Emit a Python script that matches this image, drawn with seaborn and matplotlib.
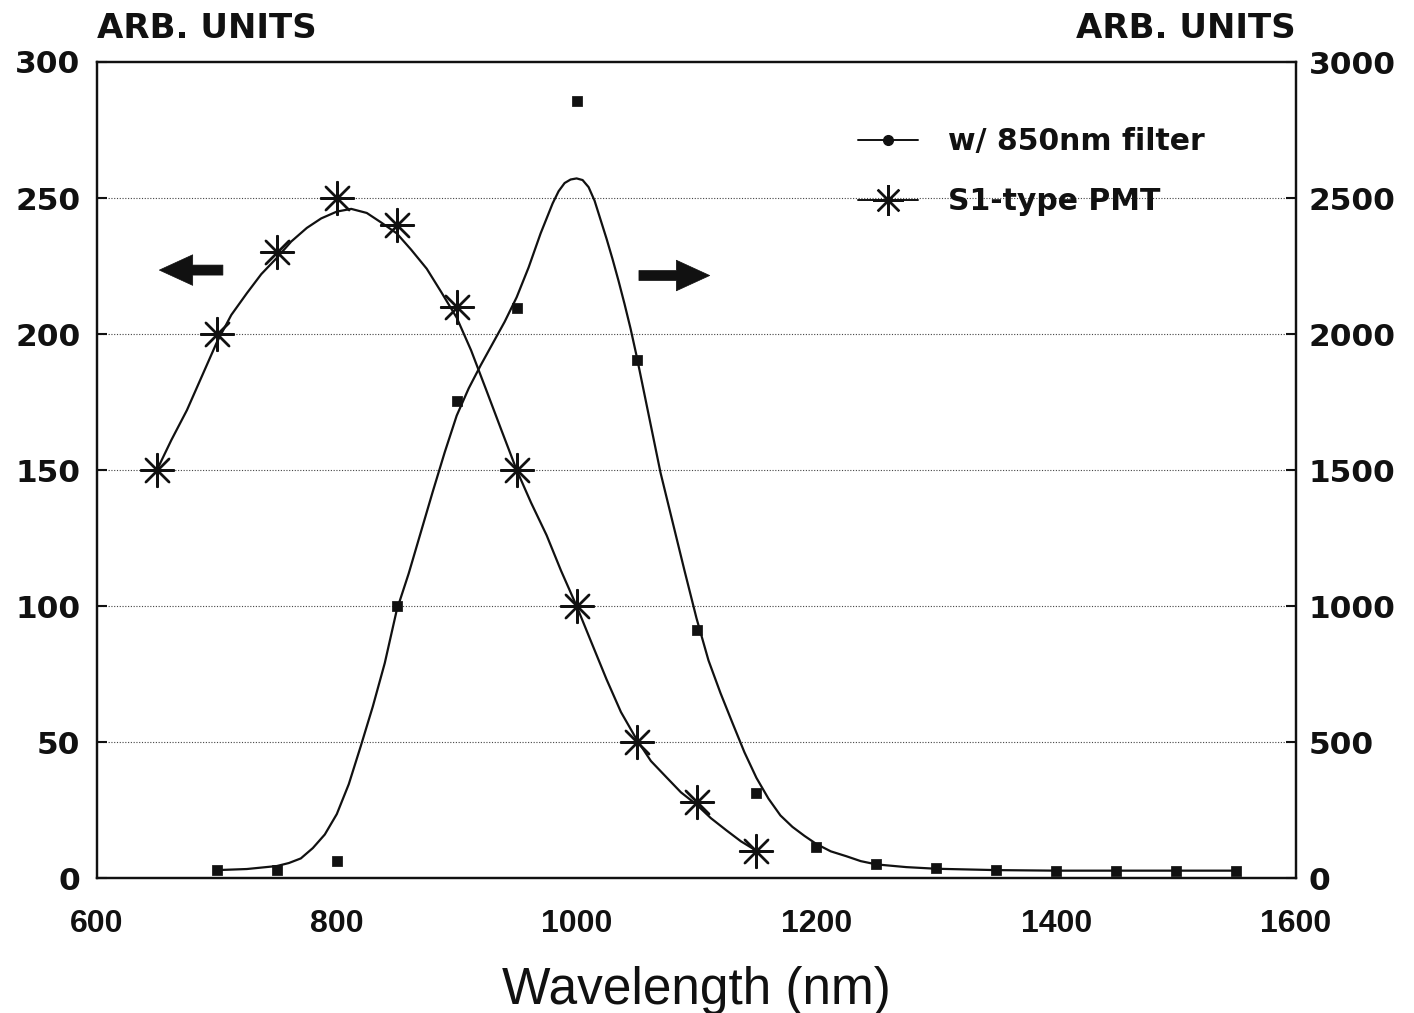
import matplotlib
matplotlib.use("Agg")
import matplotlib.pyplot as plt
from matplotlib.lines import Line2D
import seaborn as sns

# Measured points: S1-type PMT response (left axis)
pmt_wl = [650, 700, 750, 800, 850, 900, 950, 1000, 1050, 1100, 1150]
pmt_val = [150, 200, 230, 250, 240, 210, 150, 100, 50, 28, 10]

# Measured points: response with 850 nm filter (right axis)
filt_wl = [700, 750, 800, 850, 900, 950, 1000, 1050, 1100, 1150,
           1200, 1250, 1300, 1350, 1400, 1450, 1500, 1550]
filt_val = [29, 29, 64, 1000, 1754, 2095, 2857, 1905, 912, 312,
            115, 51, 36, 29, 26, 26, 26, 26]

# Fitted curve through the PMT points (left axis)
pmt_fit_wl = [650, 662, 675, 687, 700, 712, 725, 737, 750, 762, 775, 787, 800,
              812, 825, 837, 850, 862, 875, 887, 900, 912, 925, 937, 950, 962,
              975, 987, 1000, 1012, 1025, 1037, 1050, 1062, 1075, 1087, 1100,
              1112, 1125, 1137, 1150]
pmt_fit_val = [150, 161, 172, 184, 197, 207, 215, 222, 228, 234, 239, 242.5, 245,
               246, 244.5, 241, 237, 231, 224, 215.5, 206, 194, 179, 165, 150, 138,
               126, 113, 100, 87, 73, 61, 51, 43, 37, 31.5, 27,
               22, 17.5, 13.5, 10]

# Fitted curve through the filter points (right axis)
filt_fit_wl = [700, 725, 750, 760, 770, 780, 790, 800, 810, 820, 830, 840, 850,
               860, 870, 880, 890, 900, 910, 920, 930, 940, 950, 960, 970, 980,
               985, 990, 995, 1000, 1005, 1010, 1015, 1020, 1025, 1030, 1035, 1040,
               1045, 1050, 1060, 1070, 1080, 1090, 1100, 1110, 1120, 1130, 1140,
               1150, 1160, 1170, 1180, 1190, 1200, 1212, 1225, 1237, 1250, 1275,
               1300, 1350, 1400, 1450, 1500, 1550]
filt_fit_val = [29, 33, 44, 55, 72, 110, 160, 235, 345, 485, 630, 790, 985,
                1120, 1270, 1420, 1565, 1700, 1800, 1885, 1965, 2045, 2135, 2245,
                2370, 2480, 2525, 2555, 2568, 2572, 2566, 2540, 2490, 2420, 2350,
                2275, 2195, 2110, 2020, 1920, 1705, 1490, 1310, 1130, 955, 800, 680,
                570, 462, 368, 292, 230, 188, 155, 125, 98, 80, 62, 50, 40,
                34, 29, 27, 27, 27, 27]

x_ticks = [600, 800, 1000, 1200, 1400, 1600]
left_ticks = [0, 50, 100, 150, 200, 250, 300]
right_ticks = [0, 500, 1000, 1500, 2000, 2500, 3000]

sns.set_style("white")
plt.rcParams["font.family"] = ["Liberation Sans", "DejaVu Sans"]

fig = plt.figure(figsize=(14.14, 10.13), dpi=100)
ax = fig.add_axes([97 / 1414, 1 - 878 / 1013, (1296 - 97) / 1414, (878 - 62) / 1013])
ax2 = ax.twinx()

ink = "#111111"
star = (8, 2, 0)

# Left axis: PMT curve and points
sns.lineplot(x=pmt_fit_wl, y=pmt_fit_val, ax=ax, color=ink, lw=1.6, sort=False)
sns.scatterplot(x=pmt_wl, y=pmt_val, ax=ax, marker=star, s=560, color=ink,
                linewidths=1.7, zorder=5)

# Right axis: filter curve and points
sns.lineplot(x=filt_fit_wl, y=filt_fit_val, ax=ax2, color=ink, lw=1.6, sort=False)
sns.scatterplot(x=filt_wl, y=filt_val, ax=ax2, marker="s", s=45, color=ink,
                edgecolor=ink, zorder=5)

ax.set_xlim(600, 1600)
ax.set_ylim(0, 300)
ax2.set_ylim(0, 3000)
ax.set_xticks(x_ticks)
ax.set_yticks(left_ticks)
ax2.set_yticks(right_ticks)

# Dotted horizontal grid
for v in left_ticks[1:-1]:
    ax.axhline(v, color="#444444", lw=0.8, ls=(0, (1, 1.5)), zorder=0)

ytick_font = dict(fontsize=22.5, fontweight="bold", family="DejaVu Sans")
ax.set_xticklabels([str(t) for t in x_ticks], fontsize=23, fontweight="bold")
ax.set_yticklabels([str(t) for t in left_ticks], **ytick_font)
ax2.set_yticklabels([str(t) for t in right_ticks], **ytick_font)

ax.tick_params(axis="x", direction="in", length=10, width=1.2, pad=22, colors=ink)
ax.tick_params(axis="y", direction="in", length=7, width=1.5, pad=12, colors=ink)
ax2.tick_params(axis="y", direction="in", length=7, width=1.5, pad=9, colors=ink)

for a in (ax, ax2):
    for s in a.spines.values():
        s.set_color(ink)
        s.set_linewidth(1.6)
        s.set_visible(True)

ax.set_xlabel("Wavelength (nm)", fontsize=37, color=ink, labelpad=20)
ax.set_ylabel("")
ax2.set_ylabel("")

head_font = dict(fontsize=24.5, fontweight="bold", family="DejaVu Sans", color=ink)
fig.text(97 / 1414, 1 - 28 / 1013, "ARB. UNITS", ha="left", va="center", **head_font)
fig.text(1296 / 1414, 1 - 28 / 1013, "ARB. UNITS", ha="right", va="center", **head_font)

# Direction arrows pointing to each curve's axis
arrow_style = dict(arrowstyle="simple,head_length=1.2,head_width=1.1,tail_width=0.36",
                   fc=ink, ec=ink, lw=0.5, shrinkA=0, shrinkB=0, mutation_scale=20)
ax.annotate("", xy=(652, 223.5), xytext=(705, 223.5), arrowprops=arrow_style)
ax.annotate("", xy=(1111, 221.5), xytext=(1052, 221.5), arrowprops=arrow_style)

handles = [
    Line2D([], [], color=ink, lw=1.4, marker="o", markersize=7),
    Line2D([], [], color=ink, lw=1.4, marker=star, markersize=22, markeredgewidth=1.7),
]
leg = ax.legend(handles, ["w/ 850nm filter", "S1-type PMT"], loc="upper left",
                bbox_to_anchor=(858 / 1414, 1 - 127 / 1013),
                bbox_transform=fig.transFigure, frameon=False, borderpad=0,
                borderaxespad=0, handlelength=2.0, handletextpad=1.0,
                labelspacing=1.05, prop=dict(size=21.5, weight="bold", family="DejaVu Sans"))
for t in leg.get_texts():
    t.set_color(ink)

fig.savefig("out.png", dpi=100, facecolor="white")
